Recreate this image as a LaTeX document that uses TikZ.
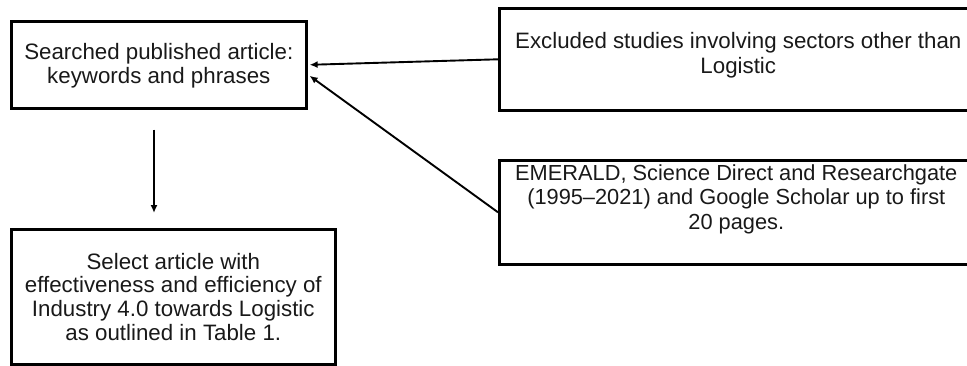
\documentclass[tikz,border=0pt]{standalone}
\usepackage{fontspec}
\setmainfont{Liberation Sans}
\usetikzlibrary{arrows.meta,calc}

\begin{document}
\begin{tikzpicture}[x=1pt,y=-1pt,
    box/.style={draw=black,line width=2.6pt,rectangle,inner sep=0pt,anchor=north west},
    txt/.style={align=center,inner sep=0pt,text=black!90,
      font=\fontsize{22.3}{23.6}\selectfont},
    link/.style={draw=black,line width=1.9pt,-{Latex[length=8pt,width=7pt]}}]
  \useasboundingbox (0,0) rectangle (967,365);

  % left column
  \node[box,minimum width=295pt,minimum height=87pt] (search) at (10,20) {};
  \node[txt] (searchtxt) at ($(search.center)+(0,1)$) {Searched published article:\\keywords and phrases};

  \node[box,minimum width=324pt,minimum height=135pt] (select) at (10,228) {};
  \node[txt] (selecttxt) at ($(select.center)+(0,0)$) {Select article with\\effectiveness and efficiency of\\Industry 4.0 towards Logistic\\as outlined in Table 1.};

  % right column (boxes run past the right edge)
  \node[box,minimum width=478pt,minimum height=102pt] (exclude) at (498,7) {};
  \node[txt,font=\fontsize{22.3}{25}\selectfont] (excludetxt) at ($(exclude.center)+(0,-4)$) {Excluded studies involving sectors other than\\Logistic};

  \node[box,minimum width=478pt,minimum height=104pt] (sources) at (498,159) {};
  \node[txt,font=\fontsize{21.8}{24.5}\selectfont] (sourcestxt) at ($(sources.center)+(-2,-13)$) {EMERALD, Science Direct and Researchgate\\(1995--2021) and Google Scholar up to first\\20 pages.};

  % connectors
  \draw[link] (exclude.west) -- ($(search.east)+(2,0)$);
  \draw[link] (sources.west) -- ($(search.east)+(2,11)$);
  \draw[link,shorten <=20pt,shorten >=15pt] (search.south -| 154,0) -- (select.north -| 154,0);
\end{tikzpicture}
\end{document}
